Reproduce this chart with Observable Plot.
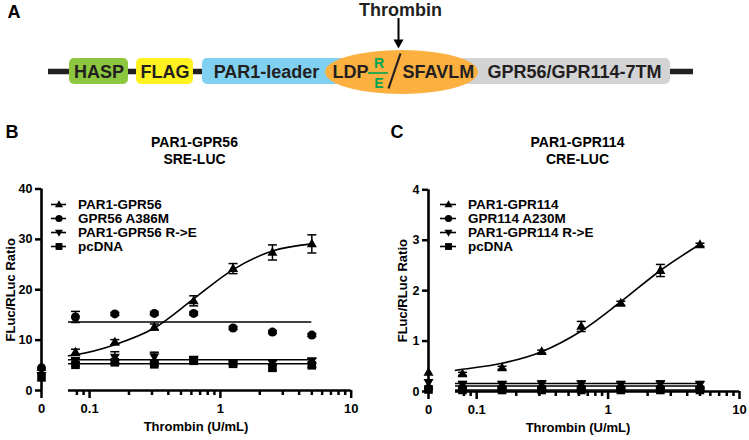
<!DOCTYPE html>
<html><head><meta charset="utf-8">
<script src="https://cdn.jsdelivr.net/npm/d3@7"></script>
<script src="https://cdn.jsdelivr.net/npm/@observablehq/plot@0.6"></script>
<style>
body{margin:0;background:#fff;}
#fig{position:relative;width:749px;height:440px;overflow:hidden;}
</style></head><body><div id="fig"></div>
<script>
// ---------- data ----------
const doses = [0.078, 0.156, 0.3125, 0.625, 1.25, 2.5, 5];
const fitDoses = [0.069, 0.078, 0.156, 0.3125, 0.625, 1.25, 2.5, 5];
const flatSpan = [0.069, 5];
const majorTicks = [0.1, 1, 10];
const minorTicks = [0.08, 0.09, 0.2, 0.3, 0.4, 0.5, 0.6, 0.7, 0.8, 0.9, 2, 3, 4, 5, 6, 7, 8, 9];

const namesB = ["PAR1-GPR56", "GPR56 A386M", "PAR1-GPR56 R->E", "pcDNA"];
const bPar1 = [7.6, 9.6, 12.6, 17.8, 24.2, 27.4, 29.1];
const bPar1Err = [0.6, 0.5, 0.6, 1.0, 1.0, 1.5, 1.8];
const bA386M = [14.6, 15.2, 15.3, 15.3, 12.4, 11.6, 11.0];
const bA386MErr = [1.1, 0.3, 0.3, 0.3, 0.3, 0.3, 0.3];
const bRE = [6.0, 6.6, 6.7, 6.2, 5.6, 5.5, 5.9];
const bREErr = [0.4, 1.1, 0.9, 0.4, 0.3, 0.4, 0.5];
const bPc = [5.1, 5.6, 5.2, 5.9, 5.3, 4.5, 5.0];
const bPcErr = [0.3, 0.4, 0.3, 0.4, 0.3, 0.5, 0.4];
const bZero = [4.6, 4.5, 3.0, 2.6];
const bFitPar1 = [6.9, 7.1, 9.1, 12.4, 18.2, 24.0, 27.7, 29.1];
const bFitLevels = [13.6, 6.1, 5.3];
const yTicksB = [0, 10, 20, 30, 40];

const namesC = ["PAR1-GPR114", "GPR114 A230M", "PAR1-GPR114 R->E", "pcDNA"];
const cPar1 = [0.35, 0.47, 0.79, 1.29, 1.75, 2.40, 2.91];
const cPar1Err = [0.03, 0.03, 0.03, 0.1, 0.04, 0.12, 0.03];
const cA230M = [0.06, 0.06, 0.06, 0.07, 0.06, 0.06, 0.06];
const cA230MErr = [0.03, 0.03, 0.03, 0.03, 0.03, 0.03, 0.03];
const cRE = [0.14, 0.14, 0.15, 0.15, 0.14, 0.15, 0.14];
const cREErr = [0.06, 0.06, 0.06, 0.06, 0.06, 0.06, 0.06];
const cPc = [0.03, 0.03, 0.03, 0.03, 0.03, 0.03, 0.03];
const cPcErr = [0.02, 0.02, 0.02, 0.02, 0.02, 0.02, 0.02];
const cZero = [0.38, 0.06, 0.18, 0.04];
const cFitPar1 = [0.42, 0.44, 0.56, 0.79, 1.2, 1.78, 2.4, 2.92];
const cFitLevels = [0.11, 0.16, 0.03];
const yTicksC = [0, 1, 2, 3, 4];

const titlesB = ["PAR1-GPR56", "SRE-LUC"];
const titlesC = ["PAR1-GPR114", "CRE-LUC"];
const xLabel = "Thrombin (U/mL)";
const yLabel = "FLuc/RLuc Ratio";
const panelLetters = ["A", "B", "C"];

// construct diagram (panel A)
const boxLabels = ["HASP", "FLAG", "PAR1-leader", "GPR56/GPR114-7TM"];
const siteLeft = "LDP", siteRight = "SFAVLM", wildRes = "R", mutRes = "E";
const enzyme = "Thrombin";

// ---------- styles / layout ----------
const INK = "#231f20";
const FONT = "'Liberation Sans', Arial, Helvetica, sans-serif";
const boxFill = ["#8dc63f", "#fff21f", "#80d0f1", "#d2d3d5"];
const boxX = [[69, 128], [136, 193], [202, 345], [440, 670]];
const boxTextX = [98.5, 164.5, 266, 574];

function makeSyms(k) {
  const triUp = {draw(c){c.moveTo(0,-5.4*k);c.lineTo(5*k,3.4*k);c.lineTo(-5*k,3.4*k);c.closePath();}};
  const triDown = {draw(c){c.moveTo(0,5.4*k);c.lineTo(5*k,-3.4*k);c.lineTo(-5*k,-3.4*k);c.closePath();}};
  const circ = {draw(c){c.moveTo(4.5*k,0);c.arc(0,0,4.5*k,0,2*Math.PI);c.closePath();}};
  const sq = {draw(c){c.rect(-4.3*k,-4.3*k,8.6*k,8.6*k);}};
  return [triUp, circ, triDown, sq];
}
const syms = makeSyms(1);
const legendSyms = makeSyms(0.8);
const capSym = {draw(c){c.moveTo(-4.5,0);c.lineTo(4.5,0);}};
const headSym = {draw(c){c.moveTo(-5,-4.5);c.lineTo(5,-4.5);c.lineTo(0,4.5);c.closePath();}};

const fig = document.getElementById("fig");
function styleAt(left, top) {
  return `position:absolute;left:${left}px;top:${top}px;background:transparent;overflow:visible;font-family:${FONT};font-weight:bold;color:#000;`;
}

// ---------- layout plot: diagram, letters, titles ----------
const W = 749, H = 440;
const layout = Plot.plot({
  width: W, height: H, margin: 0,
  x: {domain: [0, W], range: [0, W], axis: null},
  y: {domain: [0, H], range: [0, H], axis: null},
  style: styleAt(0, 0),
  marks: [
    Plot.ruleY([71], {x1: 48, x2: 693, stroke: INK, strokeWidth: 5.5}),
    Plot.rect(boxLabels, {x1: (d,i)=>boxX[i][0], x2: (d,i)=>boxX[i][1], y1: 58, y2: 84, fill: (d,i)=>boxFill[i], rx: 5}),
    Plot.rect([siteLeft], {x1: 325, x2: 478, y1: 50, y2: 94, fill: "#fbb040", rx: 76.5}),
    Plot.text(boxLabels, {x: (d,i)=>boxTextX[i], y: 72, text: d=>d, fill: INK, fontSize: 18, fontWeight: "bold"}),
    Plot.text([siteLeft], {x: 350, y: 72, text: d=>d, fill: INK, fontSize: 18, fontWeight: "bold"}),
    Plot.text([siteRight], {x: 402, y: 72, text: d=>d, fill: INK, fontSize: 18, fontWeight: "bold", textAnchor: "start"}),
    Plot.text([wildRes], {x: 378.5, y: 63.5, text: d=>d, fill: "#00a651", fontSize: 14, fontWeight: "bold"}),
    Plot.text([mutRes], {x: 378.5, y: 83.5, text: d=>d, fill: "#00a651", fontSize: 14, fontWeight: "bold"}),
    Plot.ruleY([72.5], {x1: 368, x2: 388, stroke: "#00a651", strokeWidth: 1.6}),
    Plot.link([siteRight], {x1: 388, y1: 88, x2: 400, y2: 53, stroke: INK, strokeWidth: 2.2}),
    Plot.ruleX([398], {y1: 18, y2: 42, stroke: "#000", strokeWidth: 2}),
    Plot.dot([enzyme], {x: 398, y: 43.5, symbol: headSym, fill: "#000", stroke: "none"}),
    Plot.text([enzyme], {x: 400, y: 9.5, text: d=>d, fill: INK, fontSize: 18, fontWeight: "bold"}),
    Plot.text(panelLetters, {x: (d,i)=>[7, 5, 390][i], y: (d,i)=>[11.5, 132, 132][i], text: d=>d, textAnchor: "start", fill: "#000", fontSize: 18, fontWeight: "bold"}),
    Plot.text(titlesB, {x: 194, y: (d,i)=>[142.5, 159.5][i], text: d=>d, fill: "#000", fontSize: 14, fontWeight: "bold"}),
    Plot.text(titlesC, {x: 577, y: (d,i)=>[142.5, 159.5][i], text: d=>d, fill: "#000", fontSize: 14, fontWeight: "bold"})
  ]
});
fig.appendChild(layout);

// ---------- chart panels ----------
function panel(cfg) {
  const {left, width, axisPx, zeroPx, topPx, yMax, yTicks, logStart, logEnd,
         names, series, errs, zero, fit, levels, xLabelX, yLabelX, legendLine} = cfg;
  const top = 180, height = 260;
  const marginTop = topPx - top, marginBottom = top + height - zeroPx;
  const points = names.flatMap((name, i) => doses.map((dose, j) => ({name, dose, value: series[i][j], err: errs[i][j]})));
  const caps = points.flatMap(d => [{dose: d.dose, value: d.value + d.err}, {dose: d.dose, value: d.value - d.err}]);
  const fitPts = fitDoses.map((dose, j) => ({dose, value: fit[j]}));
  const zeroPts = names.map((name, i) => ({name, value: zero[i]}));
  const symbolScale = {domain: names, range: syms};

  // main log-x plot
  const main = Plot.plot({
    width, height, marginTop, marginBottom,
    marginLeft: logStart - left, marginRight: left + width - logEnd,
    x: {type: "log", domain: [0.069, 10]},
    y: {domain: [0, yMax], axis: null},
    symbol: symbolScale,
    style: styleAt(left, top),
    marks: [
      Plot.line(fitPts, {x: "dose", y: "value", curve: "monotone-x", stroke: "#000", strokeWidth: 1.6}),
      Plot.ruleY(levels, {x1: flatSpan[0], x2: flatSpan[1], stroke: "#000", strokeWidth: 1.6}),
      Plot.ruleX(points, {x: "dose", y1: d => d.value - d.err, y2: d => d.value + d.err, stroke: "#000", strokeWidth: 1.5}),
      Plot.dot(caps, {x: "dose", y: "value", symbol: capSym, stroke: "#000", fill: "none", strokeWidth: 1.5}),
      Plot.dot(points, {x: "dose", y: "value", symbol: "name", fill: "#000", stroke: "none"}),
      Plot.ruleY([0], {stroke: "#000", strokeWidth: 2.6}),
      Plot.axisX({ticks: majorTicks, tickSize: 8, tickPadding: 5, tickFormat: d => String(d), fontSize: 13, fontWeight: "bold", strokeWidth: 2.5, label: null}),
      Plot.axisX({ticks: minorTicks, tickSize: 5, tickFormat: () => "", strokeWidth: 2.5, label: null}),
      Plot.text([xLabel], {text: d => d, frameAnchor: "bottom", dy: 40, dx: xLabelX - (logStart + logEnd) / 2, fontSize: 13, fontWeight: "bold", fill: "#000"})
    ]
  });
  fig.appendChild(main);

  // zero-dose column with y axis
  const zw = logStart - left;
  const zeroPlot = Plot.plot({
    width: zw, height, marginTop, marginBottom,
    marginLeft: axisPx - left, marginRight: 0,
    x: {domain: [0, 1], range: [axisPx - left, axisPx - left + 20]},
    y: {domain: [0, yMax]},
    symbol: symbolScale,
    style: styleAt(left, top),
    marks: [
      Plot.ruleX([0], {y1: 0, y2: yMax, stroke: "#000", strokeWidth: 2.6}),
      Plot.axisY({ticks: yTicks, tickSize: 6, tickPadding: 3, tickFormat: d => String(d), fontSize: 12.5, fontWeight: "bold", strokeWidth: 2.5, label: null}),
      Plot.axisX({ticks: [0], tickSize: 8, tickPadding: 5, tickFormat: d => String(d), fontSize: 13, fontWeight: "bold", strokeWidth: 2.5, label: null}),
      Plot.dot(zeroPts, {x: 0, y: "value", symbol: "name", fill: "#000", stroke: "none"}),
      Plot.text([yLabel], {text: d => d, frameAnchor: "left", textAnchor: "middle", rotate: -90, dx: yLabelX - axisPx, fontSize: 13, fontWeight: "bold", fill: "#000"})
    ]
  });
  fig.appendChild(zeroPlot);

  // legend
  const lw = 220, ltop = 185;
  const legend = Plot.plot({
    width: lw, height: 80, marginTop: 0, marginBottom: 0,
    marginLeft: legendLine[0] - left, marginRight: lw - (legendLine[1] - left),
    y: {type: "point", domain: names, range: [197 - ltop, 253.5 - ltop], axis: null},
    symbol: {domain: names, range: legendSyms},
    style: styleAt(left, ltop),
    marks: [
      Plot.tickY(names, {y: d => d, stroke: "#000", strokeWidth: 1.6}),
      Plot.dot(names, {y: d => d, symbol: d => d, fill: "#000", stroke: "none"}),
      Plot.text(names, {y: d => d, text: d => d, frameAnchor: "right", textAnchor: "start", dx: 11.5, fontSize: 13.5, fontWeight: "bold", fill: "#000"})
    ]
  });
  fig.appendChild(legend);
}

panel({left: 0, width: 375, axisPx: 41, zeroPx: 390, topPx: 188.5, yMax: 40, yTicks: yTicksB,
  logStart: 68, logEnd: 350.7, names: namesB,
  series: [bPar1, bA386M, bRE, bPc], errs: [bPar1Err, bA386MErr, bREErr, bPcErr],
  zero: bZero, fit: bFitPar1, levels: bFitLevels, xLabelX: 195.5, yLabelX: 10, legendLine: [51, 66]});

panel({left: 375, width: 374, axisPx: 428, zeroPx: 391, topPx: 189.3, yMax: 4, yTicks: yTicksC,
  logStart: 455, logEnd: 739, names: namesC,
  series: [cPar1, cA230M, cRE, cPc], errs: [cPar1Err, cA230MErr, cREErr, cPcErr],
  zero: cZero, fit: cFitPar1, levels: cFitLevels, xLabelX: 577.5, yLabelX: 402, legendLine: [440, 456]});
</script>
</body></html>
